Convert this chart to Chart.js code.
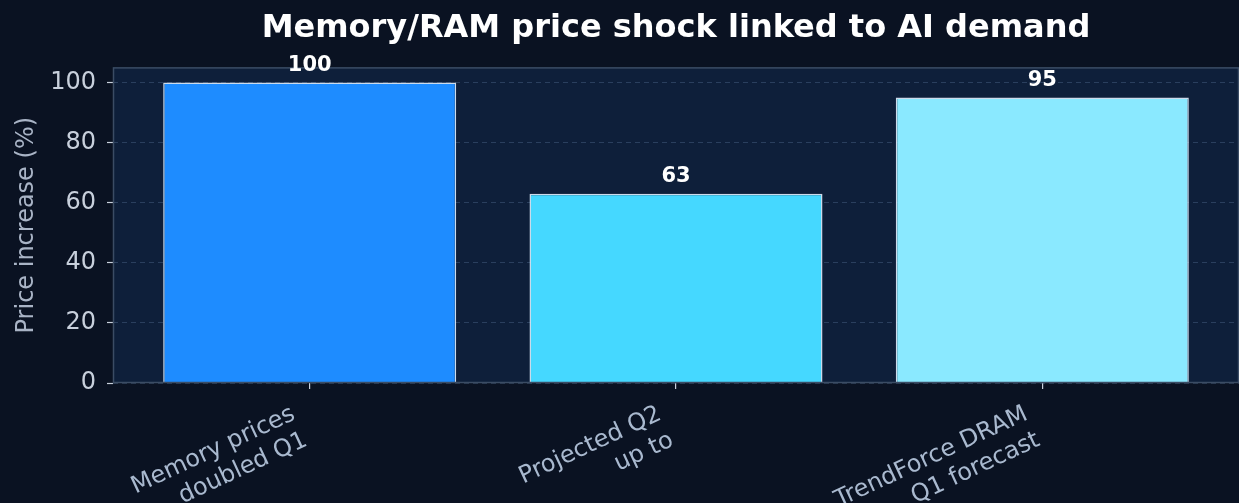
<!DOCTYPE html>
<html>
<head>
<meta charset="utf-8">
<script src="https://cdn.jsdelivr.net/npm/chart.js@4"></script>
<style>
html,body{margin:0;padding:0;background:#0a1222;}
#wrap{width:1239px;height:503px;}
</style>
</head>
<body>
<div id="wrap"><canvas id="c" width="1239" height="503"></canvas></div>
<script>
const categories = [["Memory prices", "doubled Q1"], ["Projected Q2", "up to"], ["TrendForce DRAM", "Q1 forecast"]];
const values = [100, 63, 95];
const barColors = ["#1e8cff", "#45d8ff", "#8ae9ff"];
const yTicks = [0, 20, 40, 60, 80, 100];

const FIG_BG = "#0a1222";
const AX_BG = "#0e1f3a";
const FRAME = "#3b4c64";

const bgPlugin = {
  id: "bg",
  beforeDraw(chart) {
    const {ctx, chartArea: a} = chart;
    ctx.save();
    ctx.fillStyle = FIG_BG;
    ctx.fillRect(0, 0, chart.width, chart.height);
    ctx.fillStyle = AX_BG;
    ctx.fillRect(a.left, a.top, a.right - a.left, a.bottom - a.top);
    ctx.restore();
  },
  afterDatasetsDraw(chart) {
    const {ctx, chartArea: a} = chart;
    ctx.save();
    ctx.strokeStyle = FRAME;
    ctx.lineWidth = 1.5;
    ctx.strokeRect(a.left + 0.5, a.top + 0.5, a.right - a.left - 1, a.bottom - a.top - 1);
    // value labels
    const meta = chart.getDatasetMeta(0);
    ctx.fillStyle = "#ffffff";
    ctx.font = "bold 21px 'DejaVu Sans'";
    ctx.textAlign = "center";
    ctx.textBaseline = "middle";
    meta.data.forEach((bar, i) => {
      ctx.fillText(String(values[i]), bar.x, bar.y - 17);
    });
    ctx.restore();
  }
};

new Chart(document.getElementById("c"), {
  type: "bar",
  data: {
    datasets: [{
      data: values.map((v, i) => ({x: i, y: v})),
      backgroundColor: barColors,
      borderColor: "rgba(225,240,255,0.9)",
      borderWidth: 1.5,
      borderSkipped: "start",
      barPercentage: 0.8,
      categoryPercentage: 1.0
    }]
  },
  plugins: [bgPlugin],
  options: {
    responsive: false,
    animation: false,
    layout: {padding: {left: 0, right: 0, top: 0, bottom: 0}},
    plugins: {
      legend: {display: false},
      tooltip: {enabled: false},
      title: {
        display: true,
        text: "Memory/RAM price shock linked to AI demand",
        color: "#ffffff",
        fullSize: false,
        font: {family: "'DejaVu Sans'", size: 32, weight: "bold"},
        padding: {top: 9, bottom: 20}
      }
    },
    scales: {
      x: {
        type: "linear",
        min: -0.537,
        max: 2.537,
        offset: false,
        afterBuildTicks(scale) { scale.ticks = categories.map((_, i) => ({value: i})); },
        afterFit(scale) { scale.height = 120; },
        ticks: {
          autoSkip: false,
          minRotation: 25,
          maxRotation: 25,
          color: "#a9b9cf",
          font: {family: "'DejaVu Sans'", size: 24},
          padding: 11,
          labelOffset: -16,
          callback: (v) => categories[v]
        },
        grid: {offset: false, drawOnChartArea: false, drawTicks: true, tickLength: 6, tickColor: "#c8d0dc", color: "#c8d0dc", lineWidth: 1.2},
        border: {display: false}
      },
      y: {
        min: 0,
        max: 105,
        afterBuildTicks(scale) { scale.ticks = yTicks.map(v => ({value: v})); },
        afterFit(scale) { scale.width = 113; },
        ticks: {
          color: "#c8d0dc",
          font: {family: "'DejaVu Sans'", size: 24},
          padding: 11
        },
        title: {
          display: true,
          text: "Price increase (%)",
          color: "#a9b4c6",
          font: {family: "'DejaVu Sans'", size: 24},
          padding: {top: 12, bottom: 0}
        },
        grid: {
          color: "rgba(110,140,180,0.3)",
          lineWidth: 1,
          borderDash: [5, 4],
          tickBorderDash: [],
          tickColor: "#c8d0dc",
          tickLength: 6,
          tickWidth: 1.2
        },
        border: {display: false, dash: [5, 4]}
      }
    }
  }
});
</script>
</body>
</html>
